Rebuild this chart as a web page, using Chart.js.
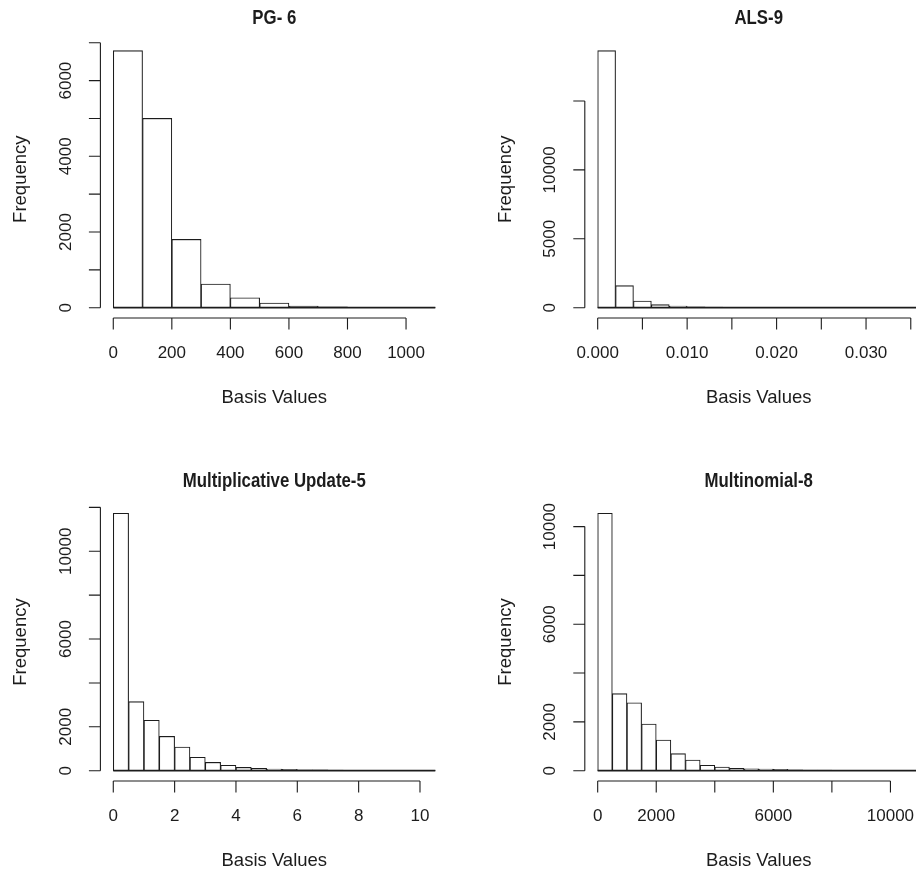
<!DOCTYPE html>
<html>
<head>
<meta charset="utf-8">
<script src="https://cdn.jsdelivr.net/npm/chart.js@4.4.1/dist/chart.umd.min.js"></script>
<style>
  html, body { margin: 0; padding: 0; background: #fff; width: 916px; height: 870px; overflow: hidden; }
  .panel { position: absolute; }
</style>
</head>
<body>
<div class="panel" style="left:0;top:0"><canvas id="pg" width="458" height="435"></canvas></div>
<div class="panel" style="left:458px;top:0"><canvas id="als" width="480" height="435"></canvas></div>
<div class="panel" style="left:0;top:435px"><canvas id="mu" width="458" height="435"></canvas></div>
<div class="panel" style="left:458px;top:435px"><canvas id="mn" width="480" height="435"></canvas></div>
<script>
// PG- 6 : bins of 100
const pgBin = 100;
const pgCounts = [6790, 5000, 1805, 625, 264, 123, 40, 22, 10, 6, 3];
const pgXTicks = [0, 200, 400, 600, 800, 1000];
const pgXLabels = ['0', '200', '400', '600', '800', '1000'];
const pgYTicks = [0, 1000, 2000, 3000, 4000, 5000, 6000, 7000];
const pgYLabels = ['0', '', '2000', '', '4000', '', '6000', ''];

// ALS-9 : bins of 0.002
const alsBin = 0.002;
const alsCounts = [18650, 1600, 490, 220, 120, 70, 40, 25, 15, 10, 8, 6, 4, 3, 2, 2, 1, 1];
const alsXTicks = [0, 0.005, 0.01, 0.015, 0.02, 0.025, 0.03, 0.035];
const alsXLabels = ['0.000', '', '0.010', '', '0.020', '', '0.030', ''];
const alsYTicks = [0, 5000, 10000, 15000];
const alsYLabels = ['0', '5000', '10000', ''];

// Multiplicative Update-5 : bins of 0.5
const muBin = 0.5;
const muCounts = [11730, 3145, 2295, 1565, 1080, 610, 380, 245, 150, 105, 75, 60, 45, 35, 28, 20, 15, 12, 8, 6, 4];
const muXTicks = [0, 2, 4, 6, 8, 10];
const muXLabels = ['0', '2', '4', '6', '8', '10'];
const muYTicks = [0, 2000, 4000, 6000, 8000, 10000, 12000];
const muYLabels = ['0', '2000', '', '6000', '', '10000', ''];

// Multinomial-8 : bins of 500
const mnBin = 500;
const mnCounts = [10545, 3155, 2785, 1915, 1255, 700, 435, 220, 150, 95, 80, 68, 55, 40, 30, 22, 16, 12, 8, 6, 4, 3];
const mnXTicks = [0, 2000, 4000, 6000, 8000, 10000];
const mnXLabels = ['0', '2000', '', '6000', '', '10000'];
const mnYTicks = [0, 2000, 4000, 6000, 8000, 10000];
const mnYLabels = ['0', '2000', '', '6000', '', '10000'];

const INK = '#1c1c1c';
const FONT = '"Liberation Sans", Arial, Helvetica, sans-serif';

// draws base-R style detached axes, titles and labels
const rAxes = {
  id: 'rAxes',
  afterDraw(chart) {
    const o = chart.options.plugins.rAxes;
    const { ctx, chartArea: a, scales: { x, y } } = chart;
    ctx.save();
    ctx.strokeStyle = INK;
    ctx.fillStyle = INK;
    ctx.lineWidth = 1.1;

    // bottom edges of the bars (tiny bars collapse to a thick line in R)
    ctx.beginPath();
    ctx.lineWidth = 1.8;
    ctx.moveTo(x.getPixelForValue(o.span[0]), y.getPixelForValue(0));
    ctx.lineTo(x.getPixelForValue(o.span[1]), y.getPixelForValue(0));
    ctx.stroke();
    ctx.lineWidth = 1.1;

    // x axis
    const xb = a.bottom;
    ctx.beginPath();
    ctx.moveTo(x.getPixelForValue(o.xTicks[0]), xb);
    ctx.lineTo(x.getPixelForValue(o.xTicks[o.xTicks.length - 1]), xb);
    o.xTicks.forEach(v => {
      const px = x.getPixelForValue(v);
      ctx.moveTo(px, xb);
      ctx.lineTo(px, xb + 11.5);
    });
    // y axis
    const yl = a.left;
    ctx.moveTo(yl, y.getPixelForValue(o.yTicks[0]));
    ctx.lineTo(yl, y.getPixelForValue(o.yTicks[o.yTicks.length - 1]));
    o.yTicks.forEach(v => {
      const py = y.getPixelForValue(v);
      ctx.moveTo(yl, py);
      ctx.lineTo(yl - 11.5, py);
    });
    ctx.stroke();

    ctx.textAlign = 'center';
    ctx.textBaseline = 'middle';
    ctx.font = '17px ' + FONT;
    o.xTicks.forEach((v, i) => {
      if (o.xLabels[i]) ctx.fillText(o.xLabels[i], x.getPixelForValue(v), xb + 35);
    });
    o.yTicks.forEach((v, i) => {
      if (!o.yLabels[i]) return;
      ctx.save();
      ctx.translate(yl - 34, y.getPixelForValue(v));
      ctx.rotate(-Math.PI / 2);
      ctx.fillText(o.yLabels[i], 0, 0);
      ctx.restore();
    });

    ctx.font = '18.5px ' + FONT;
    ctx.fillText('Basis Values', (a.left + a.right) / 2, xb + 80);
    ctx.save();
    ctx.translate(yl - 79, (a.top + a.bottom) / 2);
    ctx.rotate(-Math.PI / 2);
    ctx.fillText('Frequency', 0, 0);
    ctx.restore();

    ctx.font = 'bold 21px ' + FONT;
    ctx.save();
    ctx.translate((a.left + a.right) / 2, a.top - 22);
    ctx.scale(0.8, 1);
    ctx.fillText(o.title, 0, 0);
    ctx.restore();
    ctx.restore();
  }
};

function makeHist(id, title, bin, counts, xTicks, xLabels, yTicks, yLabels, padding) {
  const last = bin * counts.length;
  const top = Math.max(...counts);
  return new Chart(document.getElementById(id), {
    type: 'bar',
    data: {
      datasets: [{
        data: counts.map((c, i) => ({ x: (i + 0.5) * bin, y: c })),
        backgroundColor: '#ffffff',
        borderColor: INK,
        borderWidth: 1.1,
        borderSkipped: false,
        barPercentage: 1,
        categoryPercentage: 1
      }]
    },
    options: {
      responsive: false,
      animation: false,
      devicePixelRatio: 1,
      layout: { padding },
      plugins: {
        legend: { display: false },
        tooltip: { enabled: false },
        rAxes: { title, xTicks, xLabels, yTicks, yLabels, span: [0, last] }
      },
      scales: {
        x: {
          type: 'linear', display: false, offset: false,
          min: -0.04 * last, max: 1.04 * last,
          ticks: { stepSize: bin, includeBounds: false }
        },
        y: {
          type: 'linear', display: false,
          min: -0.04 * top, max: 1.04 * top
        }
      }
    },
    plugins: [rAxes]
  });
}

makeHist('pg', 'PG- 6', pgBin, pgCounts, pgXTicks, pgXLabels, pgYTicks, pgYLabels,
  { left: 100.4, right: 9.8, top: 40.4, bottom: 117 });
makeHist('als', 'ALS-9', alsBin, alsCounts, alsXTicks, alsXLabels, alsYTicks, alsYLabels,
  { left: 126.8, right: 5.4, top: 40.4, bottom: 117 });
makeHist('mu', 'Multiplicative Update-5', muBin, muCounts, muXTicks, muXLabels, muYTicks, muYLabels,
  { left: 100.4, right: 9.8, top: 68, bottom: 89 });
makeHist('mn', 'Multinomial-8', mnBin, mnCounts, mnXTicks, mnXLabels, mnYTicks, mnYLabels,
  { left: 126.8, right: 5.4, top: 68, bottom: 89 });
</script>
</body>
</html>
